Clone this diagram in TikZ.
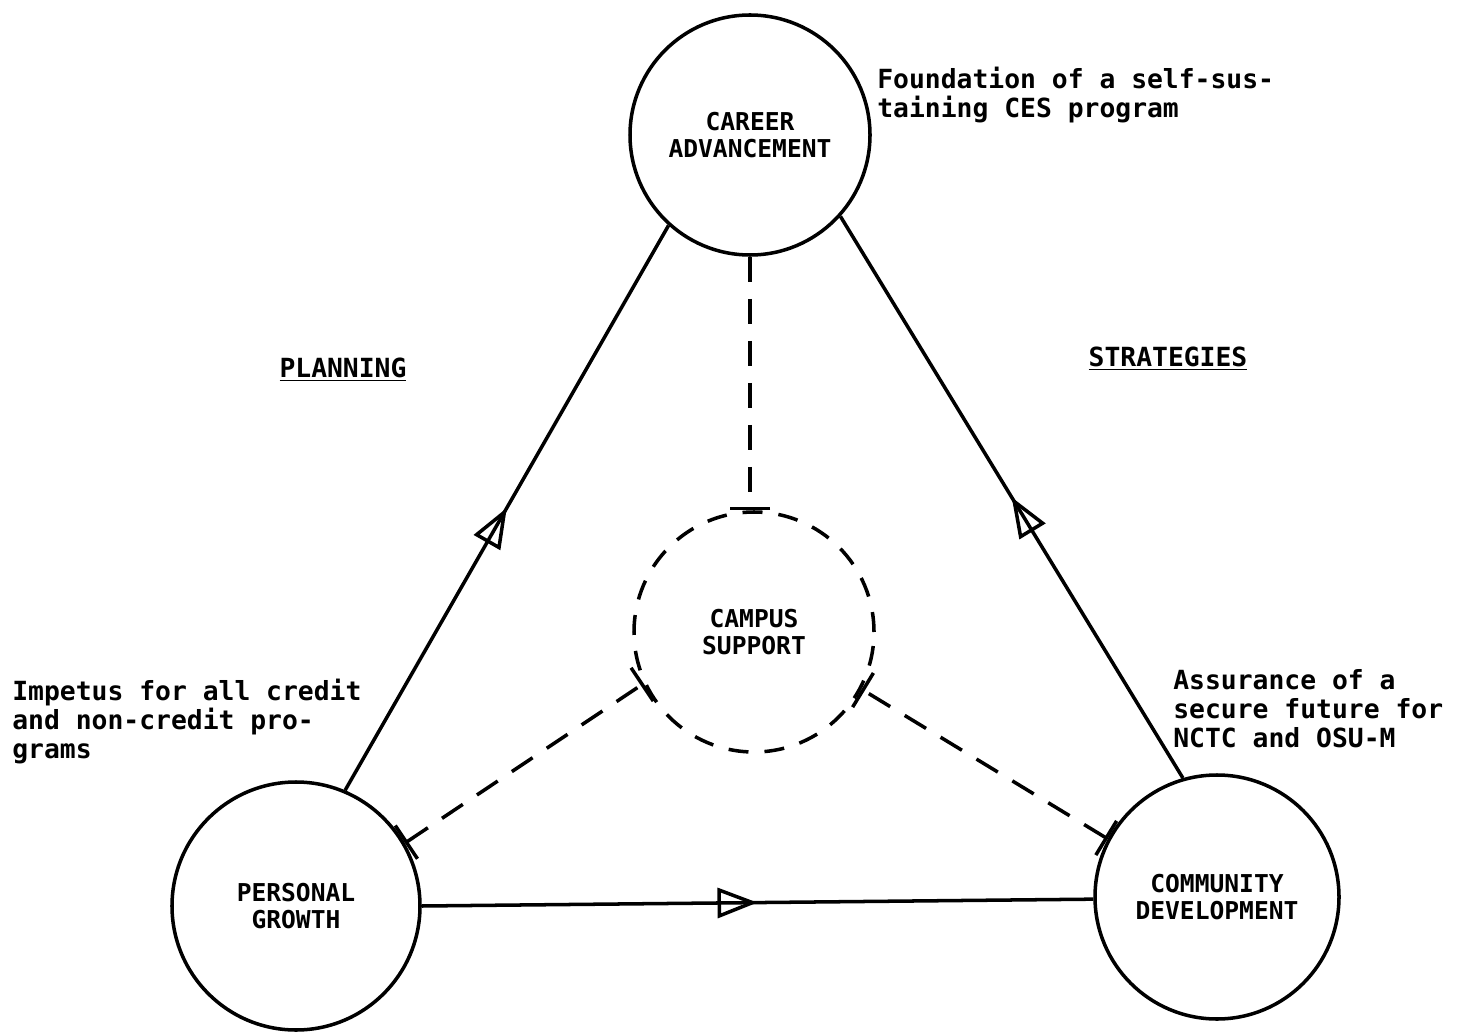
\documentclass[tikz,border=0pt]{standalone}
\usepackage{fontspec}
\setmonofont{DejaVu Sans Mono}
\usetikzlibrary{arrows.meta,decorations.markings}

\tikzset{
	goal/.style={draw,circle,line width=2pt,minimum size=48mm,inner sep=0pt,align=center,font=\fontsize{14}{15}\selectfont\ttfamily\bfseries},
	support/.style={goal,dash pattern=on 4mm off 3.2mm},
	flow/.style={line width=2pt,postaction={decorate},decoration={markings,mark=at position 0.5 with {\arrow{Triangle[open,length=8mm,width=6mm,line width=2pt]}}}},
	tie/.style={line width=2pt,dash pattern=on 5mm off 3.4mm},
	wall/.tip={Bar[width=8mm,line width=2pt]},
	note/.style={anchor=north west,inner sep=0pt,align=left,font=\fontsize{15}{16.5}\selectfont\ttfamily\bfseries},
	head/.style={inner sep=0pt,font=\fontsize{15}{17}\selectfont\ttfamily\bfseries}
}

\begin{document}
\begin{tikzpicture}[x=0.2mm,y=-0.2mm]
			\useasboundingbox (0,0) rectangle (1465,1035);
			
			\node[goal] (career) at (750,135) {CAREER\\ADVANCEMENT};
			\node[goal,minimum size=49.6mm] (personal) at (296,906) {PERSONAL\\GROWTH};
			\node[goal,minimum size=48.8mm] (community) at (1217,897) {COMMUNITY\\DEVELOPMENT};
			\node[support] (campus) at (754,632) {CAMPUS\\SUPPORT};
			
			\draw[flow] (personal.67) -- (career.228);
			\draw[flow] (community.106) -- (career.318);
			\draw[flow] (personal.east) -- (community.181);
			
			\draw[tie,-wall] (career.south) -- (career.south |- campus.north);
			\draw[tie,wall-wall] (personal.30) -- (campus.205);
			\draw[tie,wall-wall] (community.152) -- (campus.332);
			
			\node[head] (planning) at (343,370) {\underline{PLANNING}};
			\node[head] (strategies) at (1168,359) {\underline{STRATEGIES}};
			
			\node[note] (foundation) at (877,67) {Foundation of a self-sus-\\taining CES program};
			\node[note] (impetus) at (12,679) {Impetus for all credit\\and non-credit pro-\\grams};
			\node[note] (assurance) at (1173,669) {Assurance of a\\secure future for\\NCTC and OSU-M};
		\end{tikzpicture}
\end{document}
